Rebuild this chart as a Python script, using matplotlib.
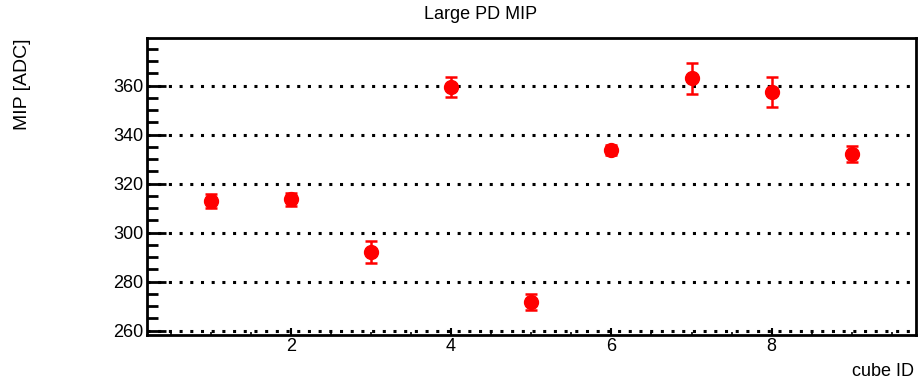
import matplotlib
matplotlib.use("Agg")
import matplotlib.pyplot as plt
from matplotlib.ticker import MultipleLocator

plt.rcParams['font.family'] = ['Liberation Sans', 'DejaVu Sans']

# MIP peak per cube for the large photodiode
cube_id = [1, 2, 3, 4, 5, 6, 7, 8, 9]
mip_adc = [312.9, 313.6, 292.1, 359.5, 271.6, 333.9, 363.1, 357.3, 332.0]
mip_err = [3.0, 2.8, 4.5, 4.2, 3.3, 2.0, 6.3, 6.1, 3.3]

title = "Large PD MIP"
x_title = "cube ID"
y_title = "MIP [ADC]"

fig = plt.figure(figsize=(9.18, 3.83), dpi=100)
ax = fig.add_axes([0.1596, 0.1253, 0.8382, 0.7755])

ax.errorbar(cube_id, mip_adc, yerr=mip_err, fmt='o', color='red',
            markersize=10, elinewidth=1.8, capsize=4, capthick=1.8, zorder=3)

ax.set_xlim(0.2, 9.8)
ax.set_ylim(258.2, 379.5)

ax.xaxis.set_major_locator(MultipleLocator(2))
ax.xaxis.set_minor_locator(MultipleLocator(0.5))
ax.yaxis.set_major_locator(MultipleLocator(20))
ax.yaxis.set_minor_locator(MultipleLocator(5))

ax.tick_params(axis='y', which='major', direction='in', length=14, width=2.0,
               labelsize=13, pad=2)
ax.tick_params(axis='y', which='minor', direction='in', length=8, width=2.0)
ax.tick_params(axis='x', which='major', direction='in', length=5, width=1.5,
               labelsize=13, pad=2)
ax.tick_params(axis='x', which='minor', direction='in', length=2.5, width=1.2)

for side in ax.spines.values():
    side.set_linewidth(2.0)

ax.yaxis.grid(True, which='major', color='black', linewidth=2.2,
              linestyle=(0, (1, 2.5)), dash_capstyle='butt')
ax.set_axisbelow(True)

fig.text(0.524, 0.963, title, ha='center', va='center', fontsize=13)
fig.text(0.9956, 0.03, x_title, ha='right', va='center', fontsize=13)
fig.text(0.024, 0.9, y_title, ha='center', va='top', rotation=90, fontsize=14)

fig.savefig("out.png", dpi=100)
